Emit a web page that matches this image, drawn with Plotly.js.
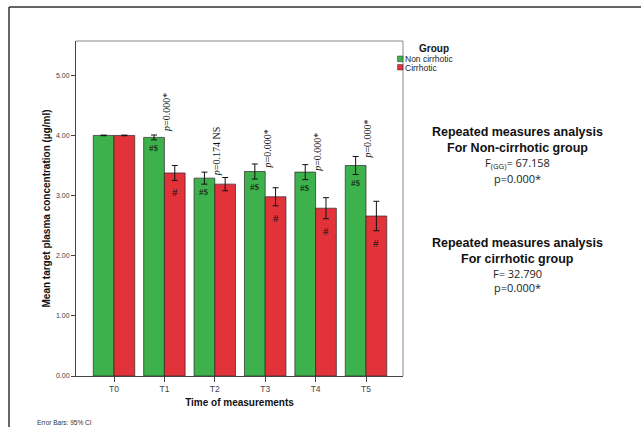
<!DOCTYPE html>
<html>
<head>
<meta charset="utf-8">
<script src="https://cdn.plot.ly/plotly-3.0.1.min.js"></script>
<style>html,body{margin:0;padding:0;background:#fff;}#chart{width:641px;height:427px;}</style>
</head>
<body>
<div id="chart"></div>
<script>
// ---- data ----
const categories = ['T0', 'T1', 'T2', 'T3', 'T4', 'T5'];
const nonCirrhotic = [4.00, 3.967, 3.29, 3.40, 3.39, 3.50];
const nonCirrhoticCI = [0.005, 0.04, 0.10, 0.125, 0.125, 0.15];
const cirrhotic = [4.00, 3.376, 3.19, 2.98, 2.79, 2.66];
const cirrhoticCI = [0.005, 0.125, 0.11, 0.15, 0.175, 0.245];
const pTexts = ['', '<i>p</i>=0.000*', '<i>p</i>=0.174 NS', '<i>p</i>=0.000*', '<i>p</i>=0.000*', '<i>p</i>=0.000*'];
const pLabelY = [null, 4.04, 3.31, 3.43, 3.38, 3.59];
const greenMarks = ['', '#$', '#$', '#$', '#$', '#$'];
const redMarks = ['', '#', '', '#', '#', '#'];
const yTicks = [0, 1, 2, 3, 4, 5];
const seriesNames = ['Non cirrhotic', 'Cirrhotic'];
const legendTitle = 'Group';
const statsBlocks = [
  ['Repeated measures analysis', 'For Non-cirrhotic group', 'F<sub>(GG)</sub>= 67.158', 'p=0.000*'],
  ['Repeated measures analysis', 'For cirrhotic group', 'F= 32.790', 'p=0.000*']
];

const GREEN = '#3db14b';
const RED = '#e2333b';

// pixel helpers (plot area 76..403 x, 41..376 y)
const L = 76, R = 403, T = 41, B = 376;
const px = x => (x - L) / (R - L);
const py = y => (B - y) / (B - T);

const traces = [
  {
    type: 'bar', name: seriesNames[0], x: categories, y: nonCirrhotic,
    marker: {color: GREEN, line: {color: '#2a2a2a', width: 0.7}},
    error_y: {type: 'data', array: nonCirrhoticCI, visible: true, color: '#111', thickness: 1, width: 3},
    showlegend: false
  },
  {
    type: 'bar', name: seriesNames[1], x: categories, y: cirrhotic,
    marker: {color: RED, line: {color: '#2a2a2a', width: 0.7}},
    error_y: {type: 'data', array: cirrhoticCI, visible: true, color: '#111', thickness: 1, width: 3},
    showlegend: false
  }
];

const annotations = [];
const halfBar = 10.4;
categories.forEach((c, i) => {
  if (pTexts[i]) {
    annotations.push({x: c, y: pLabelY[i], xref: 'x', yref: 'y', text: pTexts[i], showarrow: false,
      textangle: -90, xanchor: 'center', yanchor: 'bottom', xshift: 2, borderpad: 0,
      font: {family: 'Liberation Serif, Times New Roman, serif', size: 10, color: '#111'}});
  }
  if (greenMarks[i]) {
    annotations.push({x: c, y: nonCirrhotic[i] - nonCirrhoticCI[i], xref: 'x', yref: 'y', text: greenMarks[i],
      showarrow: false, xanchor: 'center', yanchor: 'top', xshift: -halfBar, yshift: -2, borderpad: 0,
      font: {family: 'Liberation Serif, Times New Roman, serif', size: 9, color: '#111'}});
  }
  if (redMarks[i]) {
    annotations.push({x: c, y: cirrhotic[i] - cirrhoticCI[i], xref: 'x', yref: 'y', text: redMarks[i],
      showarrow: false, xanchor: 'center', yanchor: 'top', xshift: halfBar, yshift: -5, borderpad: 0,
      font: {family: 'Liberation Serif, Times New Roman, serif', size: 11, color: '#111'}});
  }
});

// legend (manual, matching SPSS style)
annotations.push({x: px(418), y: py(48), xref: 'paper', yref: 'paper', text: '<b>' + legendTitle + '</b>',
  showarrow: false, xanchor: 'left', yanchor: 'middle', borderpad: 0, font: {family: 'Liberation Sans, Arial', size: 10, color: '#111'}});
annotations.push({x: px(403.5), y: py(59), xref: 'paper', yref: 'paper', text: seriesNames[0],
  showarrow: false, xanchor: 'left', yanchor: 'middle', borderpad: 0, font: {family: 'Liberation Sans, Arial', size: 8.5, color: '#222'}});
annotations.push({x: px(403.5), y: py(67.5), xref: 'paper', yref: 'paper', text: seriesNames[1],
  showarrow: false, xanchor: 'left', yanchor: 'middle', borderpad: 0, font: {family: 'Liberation Sans, Arial', size: 8.5, color: '#222'}});

// stats text blocks
const blockY = [[132, 148, 162.5, 178], [243, 259, 273.5, 287.5]];
statsBlocks.forEach((blk, b) => {
  blk.forEach((line, j) => {
    const bold = j < 2;
    annotations.push({x: px(517), y: py(blockY[b][j]), xref: 'paper', yref: 'paper',
      text: bold ? '<b>' + line + '</b>' : line, showarrow: false, xanchor: 'center', yanchor: 'middle', borderpad: 0,
      font: bold ? {family: 'Liberation Sans, Arial', size: 12.5, color: '#111'}
                 : {family: 'Open Sans, Liberation Sans', size: 11, color: '#222'}});
  });
});

annotations.push({x: px(36), y: py(422), xref: 'paper', yref: 'paper', text: 'Error Bars: 95% CI',
  showarrow: false, xanchor: 'left', yanchor: 'middle', borderpad: 0, font: {family: 'Liberation Sans, Arial', size: 6.5, color: '#333'}});

const shapes = [
  // outer frame (top and left)
  {type: 'line', xref: 'paper', yref: 'paper', x0: px(9), x1: px(641), y0: py(7), y1: py(7), line: {color: '#333', width: 1.5}},
  {type: 'line', xref: 'paper', yref: 'paper', x0: px(9), x1: px(9), y0: py(7), y1: py(428), line: {color: '#333', width: 1.5}},
  // plot box top / right in gray
  {type: 'line', xref: 'paper', yref: 'paper', x0: 0, x1: 1, y0: 1, y1: 1, line: {color: '#8a8a8a', width: 1}},
  {type: 'line', xref: 'paper', yref: 'paper', x0: 1, x1: 1, y0: 0, y1: 1, line: {color: '#8a8a8a', width: 1}},
  // legend swatches
  {type: 'rect', xref: 'paper', yref: 'paper', x0: px(397.5), x1: px(403), y0: py(56), y1: py(61.7), fillcolor: GREEN, line: {color: '#333', width: 0.5}},
  {type: 'rect', xref: 'paper', yref: 'paper', x0: px(397.5), x1: px(403), y0: py(64.5), y1: py(70), fillcolor: RED, line: {color: '#333', width: 0.5}}
];

const layout = {
  width: 641, height: 427,
  margin: {l: L, r: 641 - R, t: T, b: 427 - B, pad: 0},
  paper_bgcolor: '#fff', plot_bgcolor: '#fff',
  barmode: 'group', bargap: 0.177, bargroupgap: 0,
  showlegend: false,
  font: {family: 'Liberation Sans, Arial', color: '#222'},
  xaxis: {
    type: 'category', range: [-0.754, 5.734], showgrid: false, zeroline: false,
    showline: true, linecolor: '#444', linewidth: 1,
    ticks: 'outside', ticklen: 5, tickcolor: '#444', tickwidth: 1,
    tickfont: {size: 8.5, color: '#444'},
    title: {text: '<b>Time of measurements</b>', font: {size: 10, color: '#111'}, standoff: 5}
  },
  yaxis: {
    range: [0, 5.57], tickvals: yTicks, tickformat: '.2f', showgrid: false, zeroline: false,
    showline: true, linecolor: '#444', linewidth: 1,
    ticks: 'outside', ticklen: 4, tickcolor: '#444', tickwidth: 1,
    tickfont: {size: 7, color: '#444'},
    title: {text: '<b>Mean target plasma concentration (µg/ml)</b>', font: {size: 10, color: '#111'}, standoff: 3}
  },
  annotations: annotations,
  shapes: shapes
};

Plotly.newPlot('chart', traces, layout, {displayModeBar: false, staticPlot: true});
</script>
</body>
</html>
